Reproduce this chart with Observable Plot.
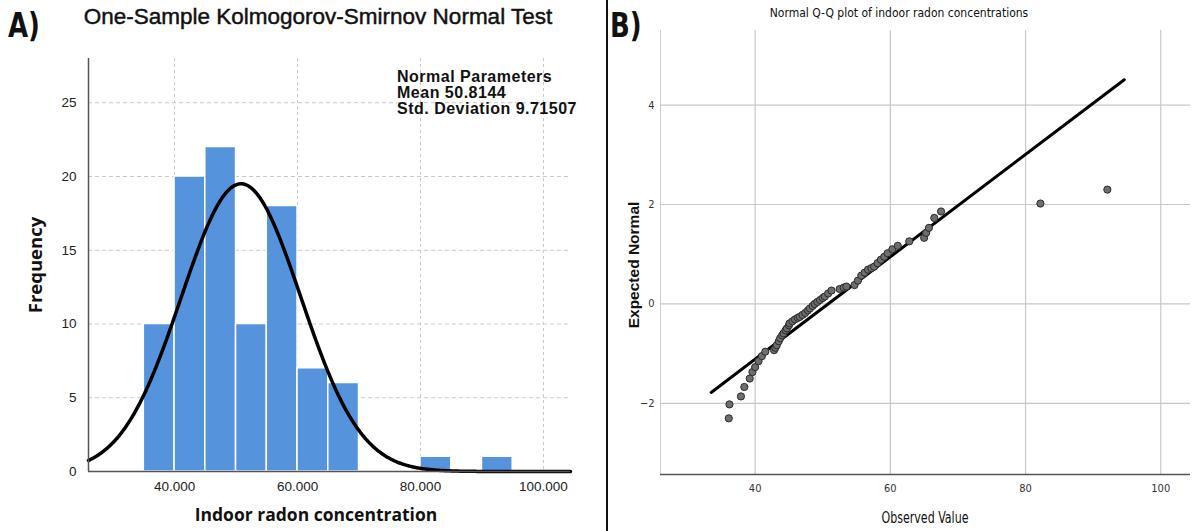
<!DOCTYPE html>
<html>
<head>
<meta charset="utf-8">
<script src="https://cdn.jsdelivr.net/npm/d3@7"></script>
<script src="https://cdn.jsdelivr.net/npm/@observablehq/plot@0.6"></script>
<style>
  body { margin: 0; background: #fff; }
  #root { position: relative; width: 1192px; height: 531px; background: #fff; overflow: hidden; }
  .lbl { position: absolute; white-space: nowrap; line-height: 1; color: #111; }
  .narrow { font-family: "Liberation Sans Narrow", "DejaVu Sans Condensed", "Liberation Sans", sans-serif; font-stretch: condensed; }
  .param { position: absolute; left: 397px; white-space: nowrap; font-family: 'Liberation Sans', Arial, sans-serif; font-size: 16px; font-weight: 700; line-height: 16px; height: 16px; letter-spacing: 0.5px; color: #111; }
</style>
</head>
<body>
<div id="root">
  <div id="chartA" style="position:absolute;left:0;top:0"></div>
  <div id="chartB" style="position:absolute;left:605px;top:0"></div>
  <div style="position:absolute;left:606px;top:0;width:2px;height:531px;background:#111"></div>

  <div class="lbl narrow" style="left:8px;top:8px;font-size:34px;font-weight:700;transform:scaleX(0.85);transform-origin:left top">A)</div>
  <div class="lbl" style="left:318px;top:6px;transform:translateX(-50%);font-family:'Liberation Sans',Arial,sans-serif;font-size:22.5px;-webkit-text-stroke:0.45px #111">One-Sample Kolmogorov-Smirnov Normal Test</div>
  <div class="param" style="top:69px">Normal Parameters</div>
  <div class="param" style="top:85px">Mean 50.8144</div>
  <div class="param" style="top:101px">Std. Deviation 9.71507</div>
  <div class="lbl" style="left:35px;top:265px;transform:translate(-50%,-50%) rotate(-90deg);font-family:'Open Sans',sans-serif;font-size:18.5px;font-weight:700">Frequency</div>
  <div class="lbl" style="left:316px;top:515px;transform:translate(-50%,-50%);font-family:'Open Sans',sans-serif;font-size:17.5px;font-weight:700">Indoor radon concentration</div>

  <div class="lbl narrow" style="left:610px;top:8px;font-size:34px;font-weight:700;transform:scaleX(0.85);transform-origin:left top">B)</div>
  <div class="lbl narrow" style="left:899px;top:13px;transform:translate(-50%,-50%);font-size:12px">Normal Q-Q plot of indoor radon concentrations</div>
  <div class="lbl" style="left:634px;top:265px;transform:translate(-50%,-50%) rotate(-90deg);font-family:'Liberation Sans',Arial,sans-serif;font-size:15.5px;font-weight:700">Expected Normal</div>
  <div class="lbl narrow" style="left:925px;top:518px;transform:translate(-50%,-50%) scaleX(0.82);font-size:15px">Observed Value</div>
</div>
<script>
// ---------- Panel A data: histogram ----------
const binStart = [35, 40, 45, 50, 55, 60, 65, 80, 90];
const binEnd   = [40, 45, 50, 55, 60, 65, 70, 85, 95];
const binCount = [10, 20, 22, 10, 18, 7, 6, 1, 1];
const xTicksA = [40, 60, 80, 100];
const yTicksA = [0, 5, 10, 15, 20, 25];
const normMean = 50.8144;
const normSD = 9.71507;

// ---------- Panel B data: Q-Q plot ----------
const qqObserved = [36.1, 36.2, 37.9, 38.4, 39.2, 39.6, 40.0, 40.5, 41.0, 41.5,
  42.8, 43.0, 43.2, 43.5, 43.7, 44.0, 44.2, 44.5, 44.7, 45.0,
  45.1, 45.5, 45.9, 46.3, 46.6, 47.0, 47.4, 47.8, 48.1, 48.5,
  48.8, 49.2, 49.6, 50.0, 50.3, 50.8, 51.3, 52.5, 53.1, 53.5,
  54.7, 55.2, 55.7, 56.2, 56.7, 57.2, 57.6, 58.1, 58.6, 59.1,
  59.6, 60.3, 61.1, 62.8, 65.0, 65.3, 65.7, 66.5, 67.5, 82.2, 92.1];
const qqExpected = [-2.30, -2.02, -1.86, -1.67, -1.50, -1.37, -1.27, -1.15, -1.05, -0.96,
  -0.93, -0.88, -0.83, -0.75, -0.69, -0.63, -0.59, -0.53, -0.49, -0.43,
  -0.39, -0.35, -0.31, -0.28, -0.26, -0.22, -0.18, -0.13, -0.09, -0.04,
  0.00, 0.04, 0.08, 0.12, 0.15, 0.21, 0.27, 0.30, 0.33, 0.35,
  0.38, 0.47, 0.57, 0.63, 0.69, 0.72, 0.75, 0.82, 0.89, 0.95,
  1.02, 1.10, 1.17, 1.26, 1.33, 1.43, 1.53, 1.73, 1.86, 2.02, 2.30];
const refLineX = [33.5, 94.6];
const refLineY = [-1.78, 4.51];
const xTicksB = [40, 60, 80, 100];
const yTicksB = [-2, 0, 2, 4];

// ---------- Panel A ----------
const bins = binStart.map((s, i) => ({x1: s, x2: binEnd[i], y: binCount[i]}));
const total = d3.sum(binCount);
const binWidth = 5;
const xDomA = [26, 104.4];
const curve = d3.range(xDomA[0], xDomA[1] + 0.001, 0.2).map(x => {
  const z = (x - normMean) / normSD;
  return {x, y: total * binWidth * Math.exp(-0.5 * z * z) / (normSD * Math.sqrt(2 * Math.PI))};
});

const chartA = Plot.plot({
  width: 600, height: 531,
  marginLeft: 88, marginRight: 30, marginTop: 58, marginBottom: 60,
  style: {fontFamily: "'Liberation Sans', Arial, sans-serif", fontSize: "13.5px", color: "#222", background: "transparent"},
  x: {domain: xDomA},
  y: {domain: [0, 28]},
  marks: [
    Plot.ruleY(yTicksA.filter(d => d > 0), {stroke: "#c8c8c8", strokeDasharray: "4,3"}),
    Plot.ruleX(xTicksA, {stroke: "#c8c8c8", strokeDasharray: "3,3"}),
    Plot.rectY(bins, {x1: "x1", x2: "x2", y: "y", fill: "#5693dd", stroke: "#fff", strokeWidth: 1.5}),
    Plot.line(curve, {x: "x", y: "y", stroke: "#000", strokeWidth: 3.5}),
    Plot.ruleX([xDomA[0]], {stroke: "#555", strokeWidth: 1.5}),
    Plot.ruleY([0], {stroke: "#555", strokeWidth: 1.5}),
    Plot.axisX({ticks: xTicksA, tickFormat: d => d.toFixed(3), tickSize: 0, tickPadding: 10, label: null}),
    Plot.axisY({ticks: yTicksA, tickSize: 0, tickPadding: 12, label: null})
  ]
});
document.getElementById("chartA").appendChild(chartA);

// ---------- Panel B ----------
const qq = qqObserved.map((x, i) => ({x, y: qqExpected[i]}));
const ref = refLineX.map((x, i) => ({x, y: refLineY[i]}));
const yDomB = [-3.43, 5.5];
const chartB = Plot.plot({
  width: 587, height: 531,
  marginLeft: 55, marginRight: 2, marginTop: 30, marginBottom: 57,
  style: {fontFamily: "'Liberation Sans Narrow', 'DejaVu Sans Condensed', sans-serif", fontSize: "11px", color: "#333", background: "transparent"},
  x: {domain: xDomA},
  y: {domain: yDomB},
  marks: [
    Plot.ruleX(xTicksB, {stroke: "#c8c8c8", strokeWidth: 1.2}),
    Plot.ruleY(yTicksB, {stroke: "#c8c8c8", strokeWidth: 1.2}),
    Plot.ruleX([xDomA[0]], {stroke: "#ccc", strokeWidth: 1}),
    Plot.ruleY([yDomB[0]], {stroke: "#555", strokeWidth: 1.5}),
    Plot.line(ref, {x: "x", y: "y", stroke: "#000", strokeWidth: 3}),
    Plot.dot(qq, {x: "x", y: "y", r: 3.6, fill: "#6e6e6e", stroke: "#2a2a2a", strokeWidth: 1}),
    Plot.axisX({ticks: xTicksB, tickSize: 0, tickPadding: 10, label: null}),
    Plot.axisY({ticks: yTicksB, tickSize: 0, tickPadding: 6, label: null})
  ]
});
document.getElementById("chartB").appendChild(chartB);
</script>
</body>
</html>
